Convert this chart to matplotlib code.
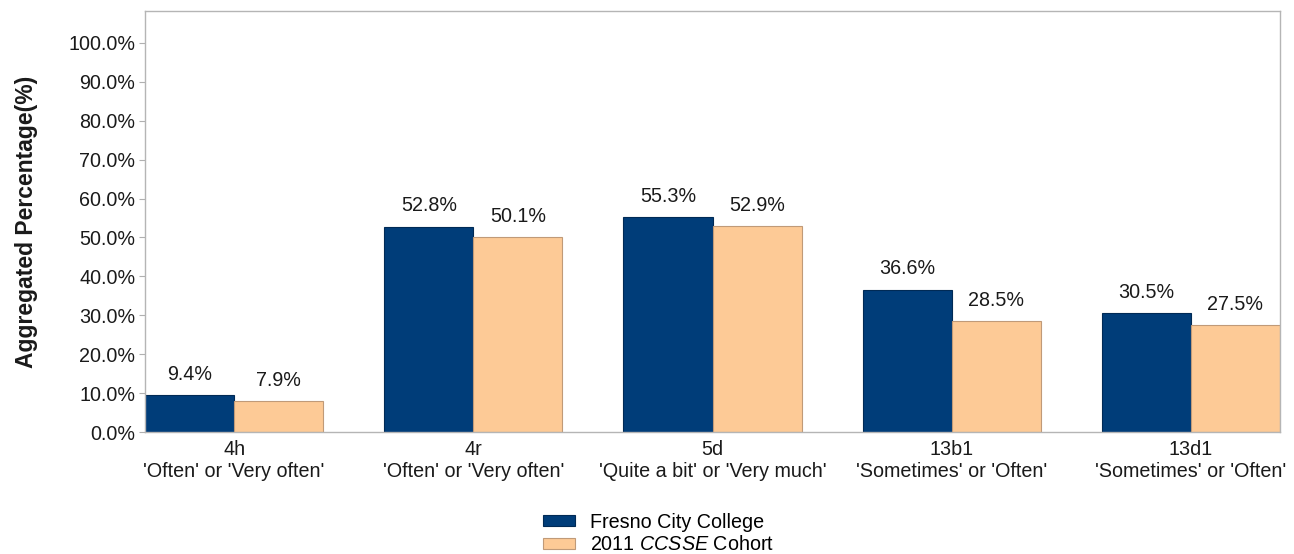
import matplotlib
matplotlib.use("Agg")
import matplotlib.pyplot as plt
import numpy as np
from matplotlib.ticker import FuncFormatter

plt.rcParams['font.family'] = ['Liberation Sans', 'DejaVu Sans']
plt.rcParams['mathtext.fontset'] = 'custom'
plt.rcParams['mathtext.it'] = 'Liberation Sans:italic'
plt.rcParams['mathtext.rm'] = 'Liberation Sans'

codes = ["4h", "4r", "5d", "13b1", "13d1"]
responses = ["'Often' or 'Very often'", "'Often' or 'Very often'",
             "'Quite a bit' or 'Very much'", "'Sometimes' or 'Often'",
             "'Sometimes' or 'Often'"]
fresno = [9.4, 52.8, 55.3, 36.6, 30.5]
cohort = [7.9, 50.1, 52.9, 28.5, 27.5]
series_names = ["Fresno City College", "2011 $\\it{CCSSE}$ Cohort"]
yticks = [0, 10, 20, 30, 40, 50, 60, 70, 80, 90, 100]

fig = plt.figure(figsize=(12.94, 5.54), dpi=100)
ax = fig.add_axes([145/1294, 1-432/554, (1280-145)/1294, (432-11)/554])

x = np.arange(len(codes))
w = 89/239
b1 = ax.bar(x - w/2, fresno, w, color='#003d79', edgecolor='#002a55', linewidth=0.8,
            label=series_names[0])
b2 = ax.bar(x + w/2, cohort, w, color='#fdca96', edgecolor='#c09a78', linewidth=0.8,
            label=series_names[1])

fs = 14.2
for bars, vals in ((b1, fresno), (b2, cohort)):
    for r, v in zip(bars, vals):
        ax.annotate(f"{v:.1f}%", (r.get_x() + r.get_width()/2, v),
                    xytext=(0, 8), textcoords='offset points',
                    ha='center', va='bottom', fontsize=fs, color='#1a1a1a')

ax.set_xlim(x[0] - w, x[-1] + w)
ax.set_ylim(0, 108.2)
ax.set_yticks(yticks)
ax.yaxis.set_major_formatter(FuncFormatter(lambda v, p: f"{v:.1f}%"))
ax.set_xticks(x)
ax.set_xticklabels([f"{c}\n{r}" for c, r in zip(codes, responses)], fontsize=fs,
                   color='#1a1a1a', linespacing=1.15)
ax.tick_params(axis='y', labelsize=fs, labelcolor='#1a1a1a', length=4,
               color='#b0b0b0', pad=3)
ax.tick_params(axis='x', length=0, pad=6)
for s in ax.spines.values():
    s.set_color('#b5b5b5')
    s.set_linewidth(1.0)

ax.set_ylabel("Aggregated Percentage(%)", fontsize=16.5, fontweight='bold',
              color='#1a1a1a')
ax.yaxis.set_label_coords(-0.094, 0.5)

fig.legend(handles=[b1, b2], loc='center', bbox_to_anchor=(0.509, 1-533.5/554),
           frameon=False, fontsize=fs, handlelength=1.6, handleheight=0.42,
           labelspacing=0.2, handletextpad=0.8)

fig.savefig("out.png", dpi=100)
